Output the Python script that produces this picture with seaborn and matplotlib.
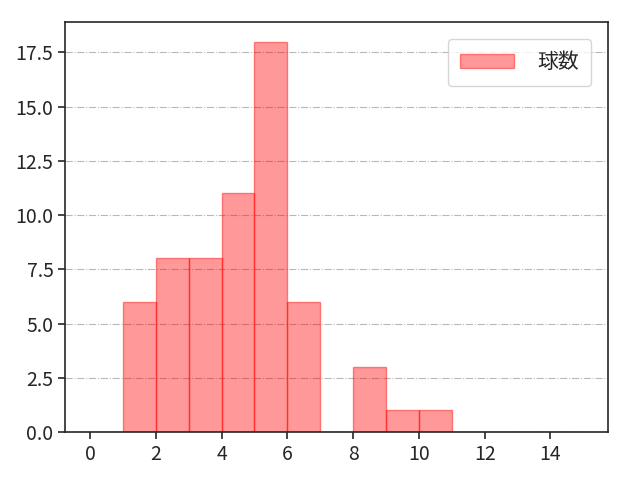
import numpy as np
import pandas as pd
import matplotlib
matplotlib.use('Agg')
import matplotlib.pyplot as plt
import seaborn as sns

# values (bin width 1)
bin_left = [0, 1, 2, 3, 4, 5, 6, 7, 8, 9, 10, 11, 12, 13, 14]
counts = [0, 6, 8, 8, 11, 18, 6, 0, 3, 1, 1, 0, 0, 0, 0]
bin_edges = list(range(0, 16))
x_ticks = [0, 2, 4, 6, 8, 10, 12, 14]

sns.set_style('ticks')
plt.rcParams['font.family'] = ['Noto Sans CJK JP', 'DejaVu Sans']

df = pd.DataFrame({'value': bin_left, 'count': counts})

fig = plt.figure(figsize=(6.4, 4.8), dpi=100)
ax = fig.add_axes([0.102, 0.1, 0.848, 0.854])
sns.histplot(data=df, x='value', weights='count', bins=bin_edges,
             color='#ff0000', alpha=0.4, edgecolor=(1, 0, 0, 0.45), linewidth=1,
             label='球数', ax=ax)
ax.set_xticks(x_ticks)
ax.set_xlabel('')
ax.set_ylabel('')
ax.yaxis.grid(True, linestyle='-.', color='#b8b8b8', linewidth=0.8)
ax.set_axisbelow(True)
ax.tick_params(labelsize=14, width=1.2, length=5)
for s in ax.spines.values():
    s.set_linewidth(1.2)
ax.legend(loc='upper right', fontsize=15, handlelength=2.6, handletextpad=1.1,
          borderpad=0.6, borderaxespad=0.8)
fig.savefig('out.png', dpi=100)
